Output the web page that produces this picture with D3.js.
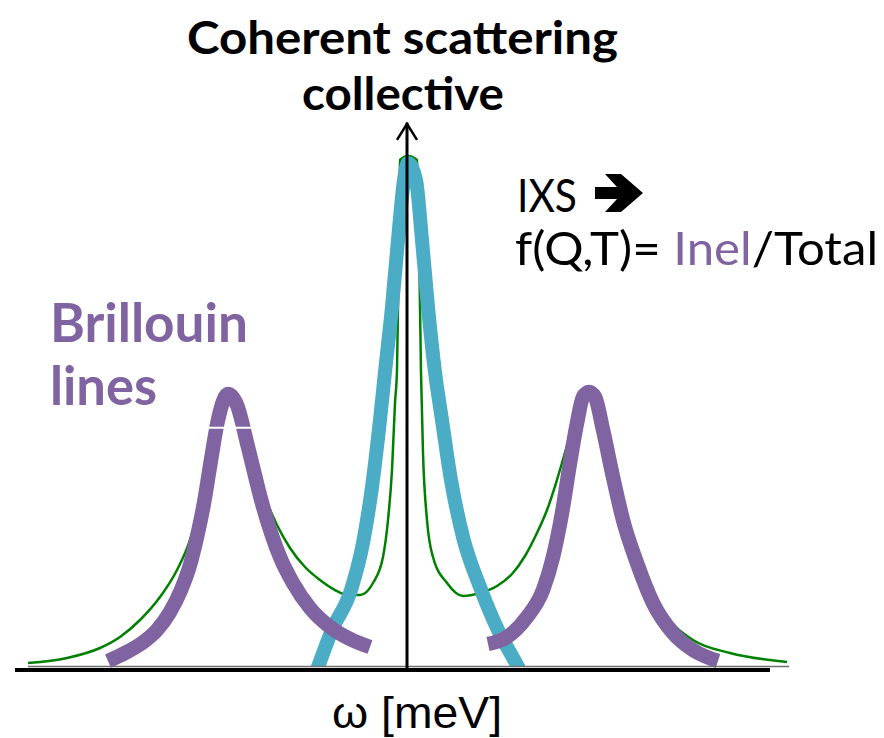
<!DOCTYPE html>
<html>
<head>
<meta charset="utf-8">
<script src="https://cdn.jsdelivr.net/npm/d3@7/dist/d3.min.js"></script>
<style>
  html, body { margin: 0; padding: 0; background: #ffffff; }
  svg { display: block; }
</style>
</head>
<body>
<svg id="chart" width="884" height="738"></svg>
<script>
// ---- Data (energy transfer ω in arbitrary meV units, intensity in arbitrary units) ----
// Total measured spectrum (thin green line)
const totalSpectrum = [
  [-18.95, 0.98], [-17.0, 1.96], [-15.35, 3.92], [-14.35, 6.08], [-13.35, 9.41],
  [-12.35, 13.92], [-11.5, 19.22], [-10.85, 25.1], [-10.45, 30.98], [-10.1, 37.25],
  [-9.75, 43.33], [-9.35, 49.61], [-8.9, 53.92], [-8.45, 51.18], [-8.0, 44.71],
  [-7.55, 38.43], [-7.05, 32.94], [-6.5, 28.04], [-5.85, 23.53], [-5.1, 19.8],
  [-4.35, 17.25], [-3.6, 15.29], [-2.95, 14.31], [-2.35, 14.31], [-1.7, 16.67],
  [-1.2, 21.76], [-0.95, 29.02], [-0.75, 38.82], [-0.6, 51.96], [-0.5, 58.43],
  [-0.4, 83.92], [-0.35, 99.61], [0.05, 100.39], [0.5, 99.61], [0.6, 83.92],
  [0.7, 57.84], [0.8, 42.16], [1.0, 29.02], [1.3, 21.76], [2.0, 16.67],
  [2.8, 14.12], [3.65, 14.71], [4.5, 16.08], [5.25, 18.43], [5.9, 21.96],
  [6.45, 26.08], [7.0, 30.98], [7.45, 36.27], [7.85, 41.57], [8.2, 46.27],
  [8.55, 50.59], [9.05, 54.12], [9.5, 51.57], [9.9, 44.71], [10.3, 37.45],
  [10.8, 29.61], [11.4, 22.16], [12.0, 16.67], [13.0, 10.0], [14.3, 5.49],
  [16.15, 2.94], [19.0, 1.18]
];
// Stokes Brillouin line (thick purple, left)
const brillouinStokes = [
  [-14.95, 1.37], [-14.1, 2.94], [-13.25, 4.9], [-12.5, 7.45], [-11.85, 10.98],
  [-11.3, 15.29], [-10.85, 20.2], [-10.5, 25.69], [-10.15, 32.35], [-9.8, 40.78],
  [-9.45, 48.63], [-8.95, 53.73], [-8.5, 51.57], [-7.95, 43.33], [-7.25, 32.35],
  [-6.35, 21.76], [-5.7, 16.67], [-4.85, 11.76], [-3.85, 8.04], [-2.85, 5.69],
  [-1.85, 4.12]
];
// Anti-Stokes Brillouin line (thick purple, right)
const brillouinAntiStokes = [
  [4.05, 4.71], [5.0, 6.08], [6.0, 10.0], [6.8, 15.29], [7.3, 21.76],
  [7.75, 30.39], [8.15, 40.2], [8.5, 48.04], [8.8, 53.14], [9.1, 54.12],
  [9.4, 53.14], [9.8, 46.67], [10.3, 37.45], [10.8, 29.02], [11.5, 20.59],
  [12.3, 12.75], [13.3, 6.86], [14.3, 3.53], [15.55, 1.37]
];
// Central (quasi-)elastic line (thick cyan)
const centralLine = [
  [-4.7, -2.35], [-4.45, 0.2], [-3.75, 7.45], [-2.8, 15.29], [-2.2, 24.51],
  [-1.75, 35.49], [-1.35, 48.63], [-1.1, 58.04], [-0.75, 70.78], [-0.45, 83.92],
  [-0.15, 95.69], [0.05, 99.02], [0.45, 95.69], [0.75, 83.92], [1.05, 70.78],
  [1.4, 58.04], [1.75, 48.63], [2.2, 36.86], [2.8, 25.69], [3.65, 15.88],
  [4.55, 7.45], [5.45, 0.98], [5.8, -1.57]
];
const centralWindow = [-4.95, 5.9];      // ω range shown of the central line
const baselineRange = [-19.6, 18.15];     // heavy black energy axis
const baselineShadow = [-18.95, 19.1];    // thin grey line above it
const yAxisTop = 106.9;                   // intensity where the vertical arrow ends

const titleLines = ["Coherent scattering", "collective"];
const brillouinLabel = ["Brillouin", "lines"];
const ixsLabel = "IXS";
const ratioParts = ["f(Q,T)= ", "Inel", "/Total"];
const xLabel = "ω [meV]";

// ---- Colours ----
const GREEN = "#008000", PURPLE = "#8064A2", CYAN = "#4BACC6";

// ---- Scales ----
const svg = d3.select("#chart");
const x = d3.scaleLinear().domain([-20, 20]).range([7, 807]);
const y = d3.scaleLinear().domain([0, 100]).range([668, 158]);

const line = d3.line()
  .x(d => x(d[0])).y(d => y(d[1]))
  .curve(d3.curveMonotoneX);

// clip for central line (cut at the energy axis)
svg.append("defs").append("clipPath").attr("id", "clipCentral")
  .append("rect")
  .attr("x", x(centralWindow[0])).attr("y", 0)
  .attr("width", x(centralWindow[1]) - x(centralWindow[0]))
  .attr("height", y(0) - 1);

// ---- Curves ----
svg.append("path").datum(totalSpectrum)
  .attr("d", line).attr("fill", "none")
  .attr("stroke", GREEN).attr("stroke-width", 2.5);

svg.append("path").datum(centralLine)
  .attr("d", line).attr("fill", "none")
  .attr("clip-path", "url(#clipCentral)")
  .attr("stroke", CYAN).attr("stroke-width", 14)
  .attr("stroke-linejoin", "round");

[brillouinStokes, brillouinAntiStokes].forEach(s => {
  svg.append("path").datum(s)
    .attr("d", line).attr("fill", "none")
    .attr("stroke", PURPLE).attr("stroke-width", 14.5)
    .attr("stroke-linecap", "butt").attr("stroke-linejoin", "round");
});

// small white nick across the left Brillouin peak
svg.append("line")
  .attr("x1", x(-9.95)).attr("x2", x(-7.7))
  .attr("y1", y(47.1)).attr("y2", y(47.1))
  .attr("stroke", "#ffffff").attr("stroke-width", 2);

// ---- Axes ----
svg.append("line")
  .attr("x1", x(baselineShadow[0])).attr("x2", x(baselineShadow[1]))
  .attr("y1", y(0) - 1.5).attr("y2", y(0) - 1.5)
  .attr("stroke", "#707070").attr("stroke-width", 1.5);
svg.append("line")
  .attr("x1", x(baselineRange[0])).attr("x2", x(baselineRange[1]))
  .attr("y1", y(0) + 2).attr("y2", y(0) + 2)
  .attr("stroke", "#000").attr("stroke-width", 4);

svg.append("line")
  .attr("x1", x(0)).attr("x2", x(0))
  .attr("y1", y(0)).attr("y2", y(yAxisTop))
  .attr("stroke", "#000").attr("stroke-width", 3);
svg.append("path")
  .attr("d", `M${x(0) - 10},${y(yAxisTop) + 17} L${x(0)},${y(yAxisTop) + 1} L${x(0) + 10},${y(yAxisTop) + 17}`)
  .attr("fill", "none").attr("stroke", "#000").attr("stroke-width", 2.5);

// ---- Text ----
svg.append("text").text(titleLines[0])
  .attr("x", 187).attr("y", 54)
  .attr("textLength", 431).attr("lengthAdjust", "spacingAndGlyphs")
  .attr("font-family", "Lato, 'Open Sans', sans-serif")
  .attr("font-weight", 700).attr("font-size", 46).attr("fill", "#000");
svg.append("text").text(titleLines[1])
  .attr("x", 302).attr("y", 110)
  .attr("textLength", 202).attr("lengthAdjust", "spacingAndGlyphs")
  .attr("font-family", "Lato, 'Open Sans', sans-serif")
  .attr("font-weight", 700).attr("font-size", 46).attr("fill", "#000");

svg.append("text").text(brillouinLabel[0])
  .attr("x", 50).attr("y", 342)
  .attr("textLength", 198).attr("lengthAdjust", "spacingAndGlyphs")
  .attr("font-family", "Lato, 'Open Sans', sans-serif")
  .attr("font-weight", 700).attr("font-size", 54).attr("fill", PURPLE);
svg.append("text").text(brillouinLabel[1])
  .attr("x", 50).attr("y", 405)
  .attr("textLength", 107).attr("lengthAdjust", "spacingAndGlyphs")
  .attr("font-family", "Lato, 'Open Sans', sans-serif")
  .attr("font-weight", 700).attr("font-size", 54).attr("fill", PURPLE);

svg.append("text").text(ixsLabel)
  .attr("x", 517).attr("y", 212)
  .attr("textLength", 60).attr("lengthAdjust", "spacingAndGlyphs")
  .attr("font-family", "Lato, 'Open Sans', sans-serif")
  .attr("font-size", 47).attr("fill", "#000");
// heavy right arrow after "IXS"
svg.append("path")
  .attr("d", "M595,187 L617,187 L605,174 L621,174 L643,193 L621,212 L605,212 L617,199 L595,199 Z")
  .attr("fill", "#000");

const ratio = svg.append("text")
  .attr("x", 515).attr("y", 265)
  .attr("textLength", 363).attr("lengthAdjust", "spacingAndGlyphs")
  .attr("font-family", "Lato, 'Open Sans', sans-serif")
  .attr("font-size", 47).attr("fill", "#000");
ratio.append("tspan").text(ratioParts[0]);
ratio.append("tspan").text(ratioParts[1]).attr("fill", PURPLE);
ratio.append("tspan").text(ratioParts[2]);

svg.append("text").text(xLabel)
  .attr("x", 332).attr("y", 728)
  .attr("textLength", 170).attr("lengthAdjust", "spacingAndGlyphs")
  .attr("font-family", "'Liberation Sans', Arial, sans-serif")
  .attr("font-size", 44).attr("fill", "#000");
</script>
</body>
</html>
